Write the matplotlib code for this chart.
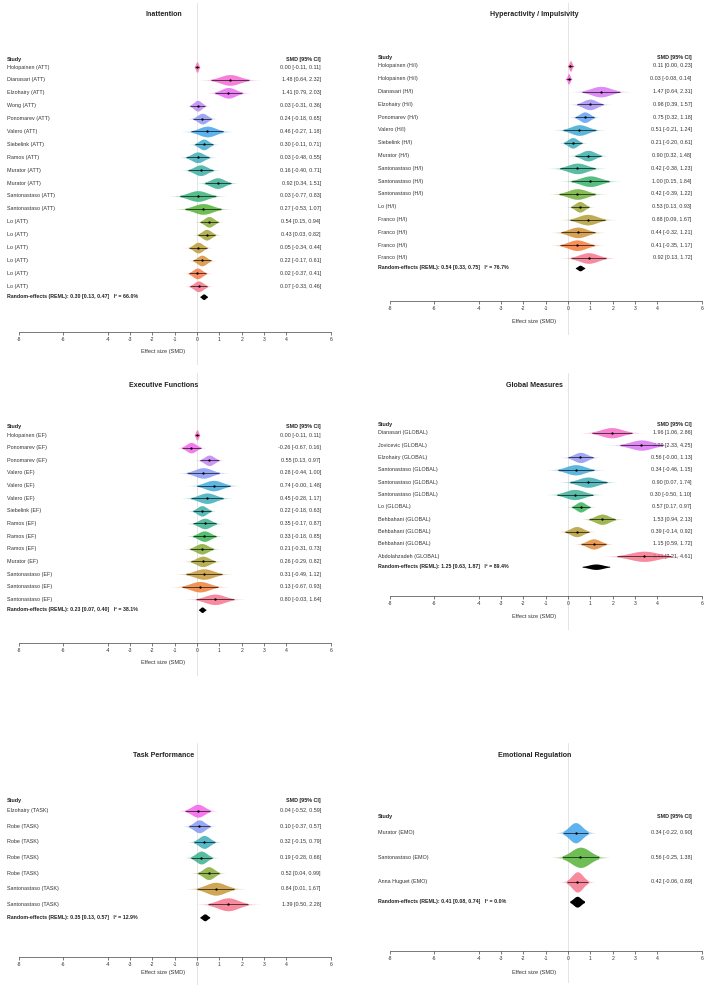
import numpy as np
import matplotlib
matplotlib.use("Agg")
import matplotlib.pyplot as plt
import seaborn as sns

plt.rcParams['font.family'] = ['Liberation Sans', 'DejaVu Sans']

# ---------------- DATA ----------------
att_studies = ["Holopainen (ATT)", "Dianasari (ATT)", "Elzohairy (ATT)", "Wong (ATT)", "Ponomarev (ATT)",
               "Valero (ATT)", "Siebelink (ATT)", "Ramos (ATT)", "Murator (ATT)", "Murator (ATT)",
               "Santonastaso (ATT)", "Santonastaso (ATT)", "Lo (ATT)", "Lo (ATT)", "Lo (ATT)", "Lo (ATT)",
               "Lo (ATT)", "Lo (ATT)"]
att_est = [0.00, 1.48, 1.41, 0.03, 0.24, 0.46, 0.30, 0.03, 0.16, 0.92, 0.03, 0.27, 0.54, 0.43, 0.05, 0.22, 0.02, 0.07]
att_lo = [-0.11, 0.64, 0.79, -0.31, -0.18, -0.27, -0.11, -0.48, -0.40, 0.34, -0.77, -0.53, 0.15, 0.03, -0.34, -0.17, -0.37, -0.33]
att_hi = [0.11, 2.32, 2.03, 0.36, 0.65, 1.18, 0.71, 0.55, 0.71, 1.51, 0.83, 1.07, 0.94, 0.82, 0.44, 0.61, 0.41, 0.46]
att_pooled = [0.30, 0.13, 0.47]
att_i2 = 66.0

hi_studies = ["Holopainen (H/I)", "Holopainen (H/I)", "Dianasari (H/I)", "Elzohairy (H/I)", "Ponomarev (H/I)",
              "Valero (H/I)", "Siebelink (H/I)", "Murator (H/I)", "Santonastaso (H/I)", "Santonastaso (H/I)",
              "Santonastaso (H/I)", "Lo (H/I)", "Franco (H/I)", "Franco (H/I)", "Franco (H/I)", "Franco (H/I)"]
hi_est = [0.11, 0.03, 1.47, 0.98, 0.75, 0.51, 0.21, 0.90, 0.42, 1.00, 0.42, 0.53, 0.88, 0.44, 0.41, 0.92]
hi_lo = [0.00, -0.08, 0.64, 0.39, 0.32, -0.21, -0.20, 0.32, -0.38, 0.15, -0.39, 0.13, 0.09, -0.32, -0.35, 0.13]
hi_hi = [0.23, 0.14, 2.31, 1.57, 1.18, 1.24, 0.61, 1.48, 1.23, 1.84, 1.22, 0.93, 1.67, 1.21, 1.17, 1.72]
hi_pooled = [0.54, 0.33, 0.75]
hi_i2 = 76.7

ef_studies = ["Holopainen (EF)", "Ponomarev (EF)", "Ponomarev (EF)", "Valero (EF)", "Valero (EF)", "Valero (EF)",
              "Siebelink (EF)", "Ramos (EF)", "Ramos (EF)", "Ramos (EF)", "Murator (EF)", "Santonastaso (EF)",
              "Santonastaso (EF)", "Santonastaso (EF)"]
ef_est = [0.00, -0.26, 0.55, 0.28, 0.74, 0.45, 0.22, 0.35, 0.33, 0.21, 0.26, 0.31, 0.13, 0.80]
ef_lo = [-0.11, -0.67, 0.13, -0.44, -0.001, -0.28, -0.18, -0.17, -0.18, -0.31, -0.29, -0.49, -0.67, -0.03]
ef_hi = [0.11, 0.16, 0.97, 1.00, 1.48, 1.17, 0.63, 0.87, 0.85, 0.73, 0.82, 1.12, 0.93, 1.64]
ef_pooled = [0.23, 0.07, 0.40]
ef_i2 = 38.1

gl_studies = ["Dianasari (GLOBAL)", "Jovicevic (GLOBAL)", "Elzohairy (GLOBAL)", "Santonastaso (GLOBAL)",
              "Santonastaso (GLOBAL)", "Santonastaso (GLOBAL)", "Lo (GLOBAL)", "Behbahani (GLOBAL)",
              "Behbahani (GLOBAL)", "Behbahani (GLOBAL)", "Abdolahzadeh (GLOBAL)"]
gl_est = [1.96, 3.29, 0.56, 0.34, 0.90, 0.30, 0.57, 1.53, 0.39, 1.15, 3.41]
gl_lo = [1.06, 2.33, -0.001, -0.46, 0.07, -0.50, 0.17, 0.94, -0.14, 0.59, 2.21]
gl_hi = [2.86, 4.25, 1.13, 1.15, 1.74, 1.10, 0.97, 2.13, 0.92, 1.72, 4.61]
gl_pooled = [1.25, 0.63, 1.87]
gl_i2 = 89.4

task_studies = ["Elzohairy (TASK)", "Robe (TASK)", "Robe (TASK)", "Robe (TASK)", "Robe (TASK)",
                "Santonastaso (TASK)", "Santonastaso (TASK)"]
task_est = [0.04, 0.10, 0.32, 0.19, 0.52, 0.84, 1.39]
task_lo = [-0.52, -0.37, -0.15, -0.28, 0.04, 0.01, 0.50]
task_hi = [0.59, 0.57, 0.79, 0.66, 0.99, 1.67, 2.28]
task_pooled = [0.35, 0.13, 0.57]
task_i2 = 12.9

emo_studies = ["Murator (EMO)", "Santonastaso (EMO)", "Anna Huguet (EMO)"]
emo_est = [0.34, 0.56, 0.42]
emo_lo = [-0.22, -0.25, -0.06]
emo_hi = [0.90, 1.38, 0.89]
emo_pooled = [0.41, 0.08, 0.74]
emo_i2 = 0.0

xticks = [-8, -6, -4, -3, -2, -1, 0, 1, 2, 3, 4, 6]

# ---------------- LAYOUT (pixels) ----------------
W, H = 708, 988
K = 22.3                      # pixels per SMD unit
X0 = [197, 568]               # pixel of SMD = 0 in each column
COLX = [(0, 354), (354, 708)]

panels = [
    dict(title="Inattention", col=0, T=3, ty=15, hy=59, first=67, sp=12.9, rey=296.7, ay=332, ly=352, B=365,
         data=(att_studies, att_est, att_lo, att_hi, att_pooled, att_i2)),
    dict(title="Hyperactivity / Impulsivity", col=1, T=3, ty=15, hy=57, first=66, sp=12.8, rey=268, ay=301, ly=322, B=335,
         data=(hi_studies, hi_est, hi_lo, hi_hi, hi_pooled, hi_i2)),
    dict(title="Executive Functions", col=0, T=373, ty=385, hy=426.7, first=435, sp=12.64, rey=609.7, ay=642.7, ly=662, B=676,
         data=(ef_studies, ef_est, ef_lo, ef_hi, ef_pooled, ef_i2)),
    dict(title="Global Measures", col=1, T=373, ty=385, hy=424.3, first=432.7, sp=12.36, rey=566.7, ay=596, ly=616.7, B=630,
         data=(gl_studies, gl_est, gl_lo, gl_hi, gl_pooled, gl_i2)),
    dict(title="Task Performance", col=0, T=743, ty=755.7, hy=800, first=810.7, sp=15.6, rey=917.3, ay=956.7, ly=972.3, B=985,
         data=(task_studies, task_est, task_lo, task_hi, task_pooled, task_i2)),
    dict(title="Emotional Regulation", col=1, T=743, ty=755.7, hy=816, first=832.7, sp=24.6, rey=901.7, ay=951, ly=972.3, B=983,
         data=(emo_studies, emo_est, emo_lo, emo_hi, emo_pooled, emo_i2)),
]

LABEL_X = -8.52
VAL_X = 5.55
TITLE_X = -1.5
TXT = '#333333'

fig = plt.figure(figsize=(W / 100, H / 100), dpi=100)
fig.patch.set_facecolor('white')


def fmt(e, l, h):
    return f"{e:.2f} [{l:.2f}, {h:.2f}]"


for p in panels:
    L, R = COLX[p['col']]
    x0 = X0[p['col']]
    ax = fig.add_axes([L / W, 1 - p['B'] / H, (R - L) / W, (p['B'] - p['T']) / H])
    ax.set_xlim((L - x0) / K, (R - x0) / K)
    row = lambda px, p=p: (px - p['first']) / p['sp']
    ax.set_ylim(row(p['B']), row(p['T']))
    ax.patch.set_alpha(0)

    studies, est, lo, hi, pooled, i2 = p['data']
    n = len(studies)
    cols = sns.color_palette('husl', n)[::-1]

    ax.axvline(0, color='#d9d9d9', lw=0.5, zorder=0)

    ax.text(TITLE_X, row(p['ty']), p['title'], ha='center', va='center', fontsize=5.1,
            fontweight='bold', color='#222222')
    ax.text(LABEL_X, row(p['hy']), "Study", ha='left', va='center', fontsize=3.9,
            fontweight='bold', color='#222222')
    ax.text(VAL_X, row(p['hy']), "SMD [95% CI]", ha='right', va='center', fontsize=3.9,
            fontweight='bold', color='#222222')

    hh = 0.41
    for i in range(n):
        y = i
        e, l, h = est[i], lo[i], hi[i]
        se = (h - l) / (2 * 1.96)
        xs = np.linspace(e - 3.1 * se, e + 3.1 * se, 300)
        d = np.exp(-0.5 * ((xs - e) / se) ** 2)
        ax.fill_between(xs, y - hh * d, y + hh * d, color=cols[i], alpha=0.4, lw=0, zorder=2)
        m = (xs >= l) & (xs <= h)
        ax.fill_between(xs[m], y - hh * d[m], y + hh * d[m], color=cols[i], alpha=0.7, lw=0, zorder=3)
        ax.plot([l, h], [y, y], color='black', lw=0.45, zorder=4, solid_capstyle='butt')
        ax.plot([e], [y], 'o', color='black', ms=1.7, mew=0, zorder=5)
        ax.text(LABEL_X, y, studies[i], ha='left', va='center', fontsize=3.9, color=TXT, zorder=1)
        ax.text(VAL_X, y, fmt(e, l, h), ha='right', va='center', fontsize=3.9, color=TXT, zorder=1)

    # pooled estimate
    ye = row(p['rey'])
    pe, pl, ph = pooled
    pse = (ph - pl) / (2 * 1.96)
    xs = np.linspace(pl, ph, 200)
    d = np.exp(-0.5 * ((xs - pe) / pse) ** 2)
    hd = 0.22
    ax.fill_between(xs, ye - hd * d, ye + hd * d, color='black', lw=0, zorder=5)
    ax.text(LABEL_X, ye, f"Random-effects (REML): {fmt(pe, pl, ph)}   I² = {i2:.1f}%", ha='left',
            va='center', fontsize=3.8, fontweight='bold', color='#222222')

    # x axis
    for s in ['top', 'right', 'left']:
        ax.spines[s].set_visible(False)
    ax.spines['bottom'].set_position(('data', row(p['ay'])))
    ax.spines['bottom'].set_bounds(-8, 6)
    ax.spines['bottom'].set_linewidth(0.5)
    ax.spines['bottom'].set_color('#444444')
    ax.set_xticks(xticks)
    ax.set_xticklabels([str(t) for t in xticks])
    ax.tick_params(axis='x', length=2.2, width=0.5, color='#444444', labelsize=3.6, pad=1.5,
                   labelcolor='#333333')
    ax.set_yticks([])
    ax.text(TITLE_X, row(p['ly']), "Effect size (SMD)", ha='center', va='center', fontsize=4.1, color=TXT)

fig.savefig("out.png", dpi=100, facecolor='white')
